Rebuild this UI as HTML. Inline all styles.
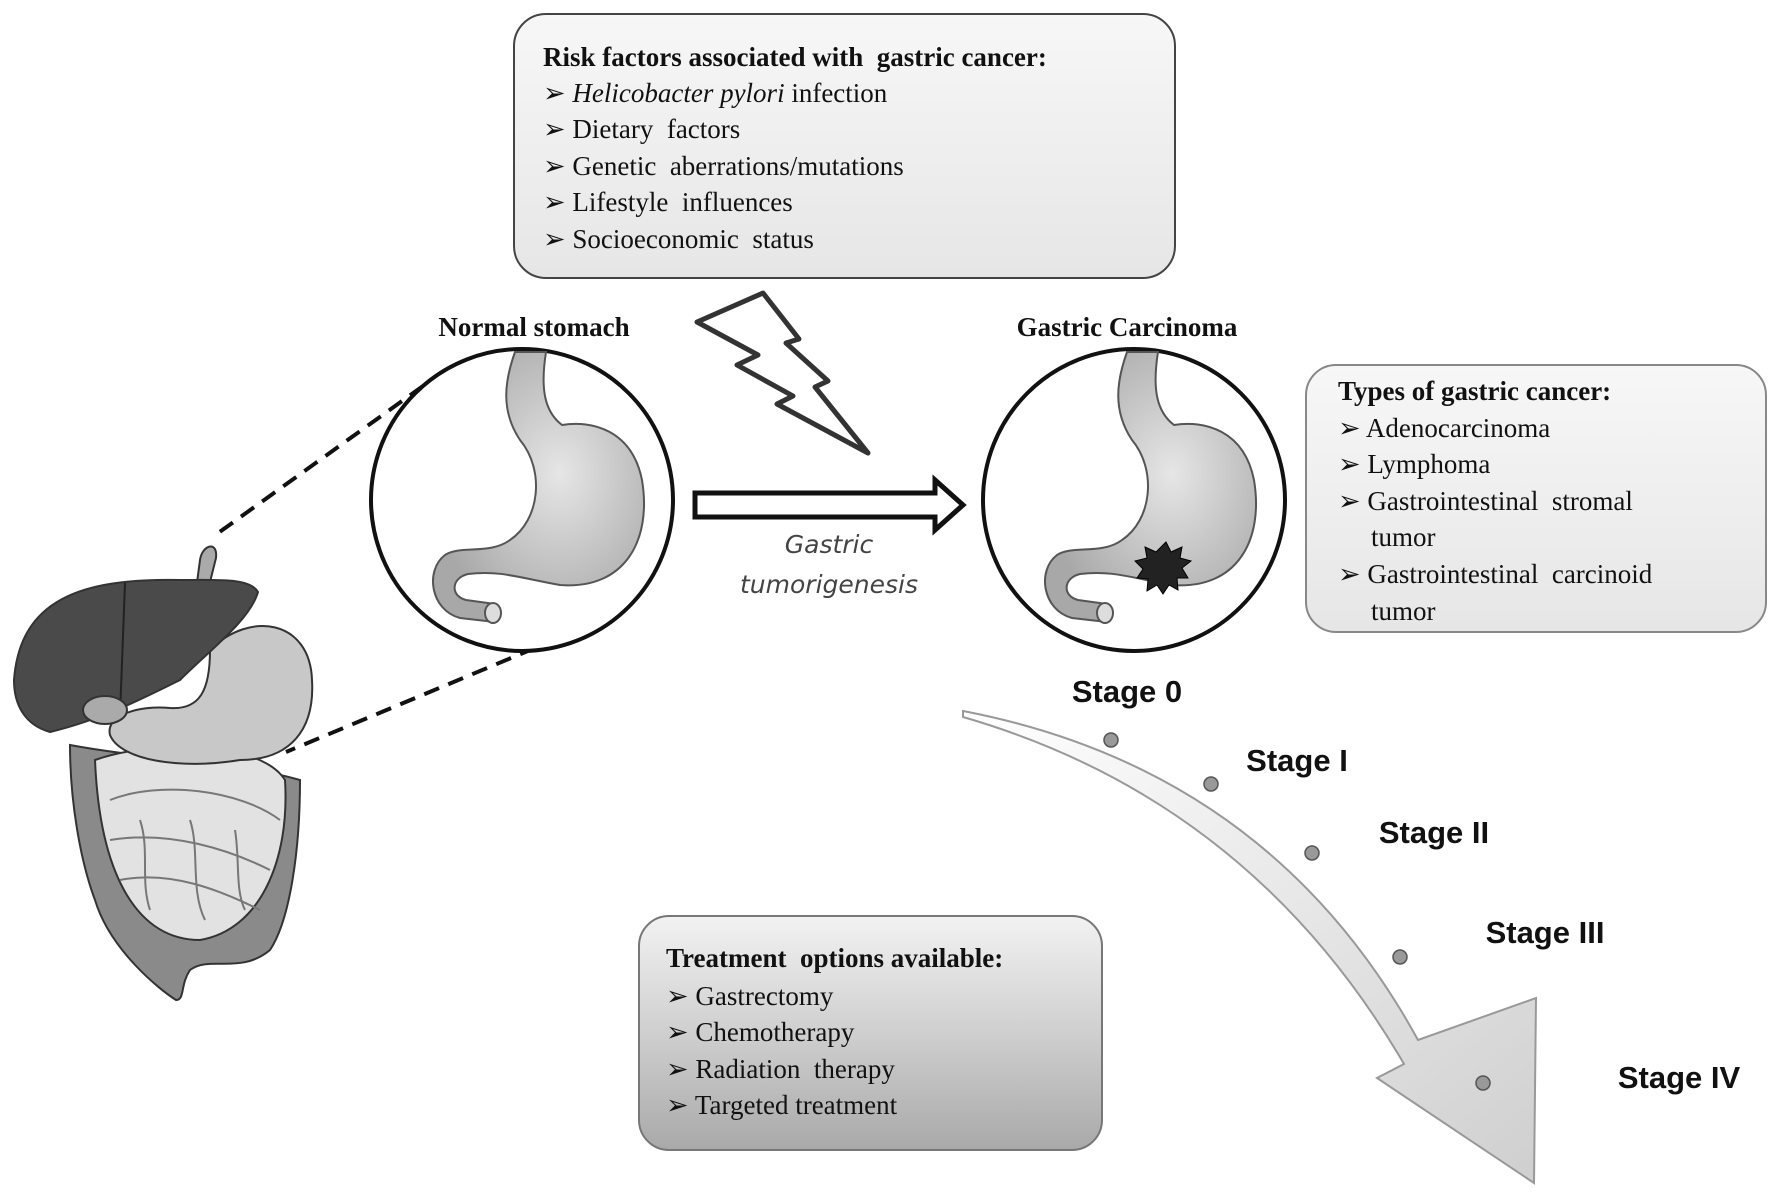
<!DOCTYPE html>
<html><head><meta charset="utf-8"><style>
html,body{margin:0;padding:0;background:#fff}
svg{display:block}
.t{font-family:"Liberation Serif",serif;font-size:27px;fill:#111}
.h{font-family:"Liberation Serif",serif;font-size:27px;font-weight:bold;fill:#111}
.s{font-family:"Liberation Sans",sans-serif;font-size:31px;font-weight:bold;fill:#111}
</style></head><body>
<svg width="1772" height="1195" viewBox="0 0 1772 1195" xmlns="http://www.w3.org/2000/svg">
<defs>
<linearGradient id="box" x1="0" y1="0" x2="0" y2="1"><stop offset="0" stop-color="#f7f7f7"/><stop offset="1" stop-color="#e6e6e6"/></linearGradient>
<linearGradient id="tbox" x1="0" y1="0" x2="0" y2="1"><stop offset="0" stop-color="#f2f2f2"/><stop offset="0.5" stop-color="#cfcfcf"/><stop offset="1" stop-color="#a9a9a9"/></linearGradient>
<radialGradient id="st" cx="0.6" cy="0.45" r="0.6"><stop offset="0" stop-color="#e6e6e6"/><stop offset="1" stop-color="#a8a8a8"/></radialGradient>
<linearGradient id="arr" x1="0" y1="0" x2="1" y2="1"><stop offset="0" stop-color="#ffffff"/><stop offset="1" stop-color="#cfcfcf"/></linearGradient>
<g id="stom">
<path d="M515,352 C505,380 500,410 520,440 C545,470 540,520 510,540 C490,555 460,545 445,555 C425,570 430,610 460,618 L495,622 L495,604 L466,600 C450,596 451,578 468,574 C500,570 520,578 560,585 C625,590 652,540 642,480 C632,430 592,420 562,425 C545,412 540,390 546,352 Z" fill="url(#st)" stroke="#555" stroke-width="2"/>
<ellipse cx="493" cy="613" rx="8" ry="10" fill="#ddd" stroke="#555" stroke-width="2"/>
</g>
</defs>

<rect x="514" y="14" width="661" height="264" rx="32" fill="url(#box)" stroke="#444" stroke-width="2"/>
<text class="h" x="543" y="66">Risk factors associated with&#160; gastric cancer:</text>
<text class="t" x="543" y="102">➢ <tspan font-style="italic">Helicobacter pylori</tspan> infection</text>
<text class="t" x="543" y="138">➢ Dietary&#160; factors</text>
<text class="t" x="543" y="175">➢ Genetic&#160; aberrations/mutations</text>
<text class="t" x="543" y="211">➢ Lifestyle&#160; influences</text>
<text class="t" x="543" y="248">➢ Socioeconomic&#160; status</text>

<polygon points="697,322 763,293 799,339 786,343 828,381 815,387 868,453 777,404 793,396 737,365 758,355" fill="#fff" stroke="#333" stroke-width="5" stroke-linejoin="round"/>

<text class="h" x="534" y="336" text-anchor="middle">Normal stomach</text>
<text class="h" x="1127" y="336" text-anchor="middle">Gastric Carcinoma</text>

<line x1="423" y1="386" x2="214" y2="536" stroke="#111" stroke-width="4" stroke-dasharray="16,10"/>
<line x1="535" y1="648" x2="286" y2="752" stroke="#111" stroke-width="4" stroke-dasharray="16,10"/>

<ellipse cx="522" cy="500" rx="151" ry="151" fill="#fff" stroke="#111" stroke-width="4"/>
<use href="#stom"/>
<ellipse cx="1134" cy="500" rx="151" ry="151" fill="#fff" stroke="#111" stroke-width="4"/>
<use href="#stom" transform="translate(612,0)"/>
<polygon points="1166,542 1171,552 1182,547 1180,558 1191,561 1182,568 1188,578 1177,578 1178,590 1169,585 1163,594 1157,585 1147,591 1148,579 1137,578 1143,569 1135,561 1147,558 1145,547 1156,552" fill="#222" stroke="#000" stroke-width="1"/>

<polygon points="695,493 935,493 935,480 963,505 935,530 935,517 695,517" fill="#fff" stroke="#111" stroke-width="5"/>
<text x="829" y="553" text-anchor="middle" font-family="'DejaVu Sans',sans-serif" font-style="italic" font-size="25" fill="#444">Gastric</text>
<text x="829" y="593" text-anchor="middle" font-family="'DejaVu Sans',sans-serif" font-style="italic" font-size="25" fill="#444">tumorigenesis</text>

<rect x="1306" y="365" width="460" height="267" rx="30" fill="url(#box)" stroke="#888" stroke-width="2"/>
<text class="h" x="1338" y="400">Types of gastric cancer:</text>
<text class="t" x="1338" y="437">➢ Adenocarcinoma</text>
<text class="t" x="1338" y="473">➢ Lymphoma</text>
<text class="t" x="1338" y="510">➢ Gastrointestinal&#160; stromal</text>
<text class="t" x="1371" y="546">tumor</text>
<text class="t" x="1338" y="583">➢ Gastrointestinal&#160; carcinoid</text>
<text class="t" x="1371" y="620">tumor</text>

<path d="M963,711 Q1270,770 1418,1040 L1536,998 L1534,1183 L1377,1078 L1404,1064 Q1250,800 963,717 Z" fill="url(#arr)" stroke="#999" stroke-width="2"/>
<g fill="#999" stroke="#555" stroke-width="1.5">
<circle cx="1111" cy="740" r="7"/><circle cx="1211" cy="784" r="7"/><circle cx="1312" cy="853" r="7"/><circle cx="1400" cy="957" r="7"/><circle cx="1483" cy="1083" r="7"/>
</g>
<text class="s" x="1127" y="702" text-anchor="middle">Stage 0</text>
<text class="s" x="1297" y="771" text-anchor="middle">Stage I</text>
<text class="s" x="1434" y="843" text-anchor="middle">Stage II</text>
<text class="s" x="1545" y="943" text-anchor="middle">Stage III</text>
<text class="s" x="1679" y="1088" text-anchor="middle">Stage IV</text>

<rect x="639" y="916" width="463" height="234" rx="30" fill="url(#tbox)" stroke="#777" stroke-width="2"/>
<text class="h" x="666" y="967">Treatment&#160; options available:</text>
<text class="t" x="666" y="1005">➢ Gastrectomy</text>
<text class="t" x="666" y="1041">➢ Chemotherapy</text>
<text class="t" x="666" y="1078">➢ Radiation&#160; therapy</text>
<text class="t" x="666" y="1114">➢ Targeted treatment</text>

<g stroke="#333" stroke-width="2">
<path d="M200,560 C202,545 218,540 216,558 L208,590 L196,590 Z" fill="#aaa"/>
<path d="M70,745 C150,760 230,760 300,780 C300,850 290,920 270,950 C240,975 210,955 190,970 C180,985 185,1000 176,1000 C160,990 110,950 95,900 C80,860 70,800 70,745 Z" fill="#8a8a8a"/>
<path d="M95,760 C150,740 260,740 285,780 C290,860 260,930 200,940 C140,940 100,880 95,760 Z" fill="#e2e2e2"/>
<path d="M110,800 C160,780 240,790 280,820 M110,840 C170,830 230,850 270,870 M120,880 C170,870 220,890 260,910 M140,820 C150,850 140,880 150,910 M190,820 C200,850 190,890 205,920 M235,830 C240,860 235,890 245,910" fill="none" stroke="#777"/>
<path d="M210,650 C250,610 310,620 312,680 C315,730 290,760 240,760 C180,770 120,760 110,735 C105,715 140,705 170,708 C200,710 210,690 210,650 Z" fill="#c8c8c8"/>
<path d="M14,680 C20,600 80,578 180,580 C220,580 250,578 258,592 C250,620 210,650 180,680 C140,700 100,720 50,732 C25,725 14,705 14,680 Z" fill="#4a4a4a"/>
<line x1="125" y1="583" x2="120" y2="715" stroke="#222"/>
<ellipse cx="105" cy="710" rx="22" ry="14" fill="#aaa"/>
</g>
</svg>
</body></html>
